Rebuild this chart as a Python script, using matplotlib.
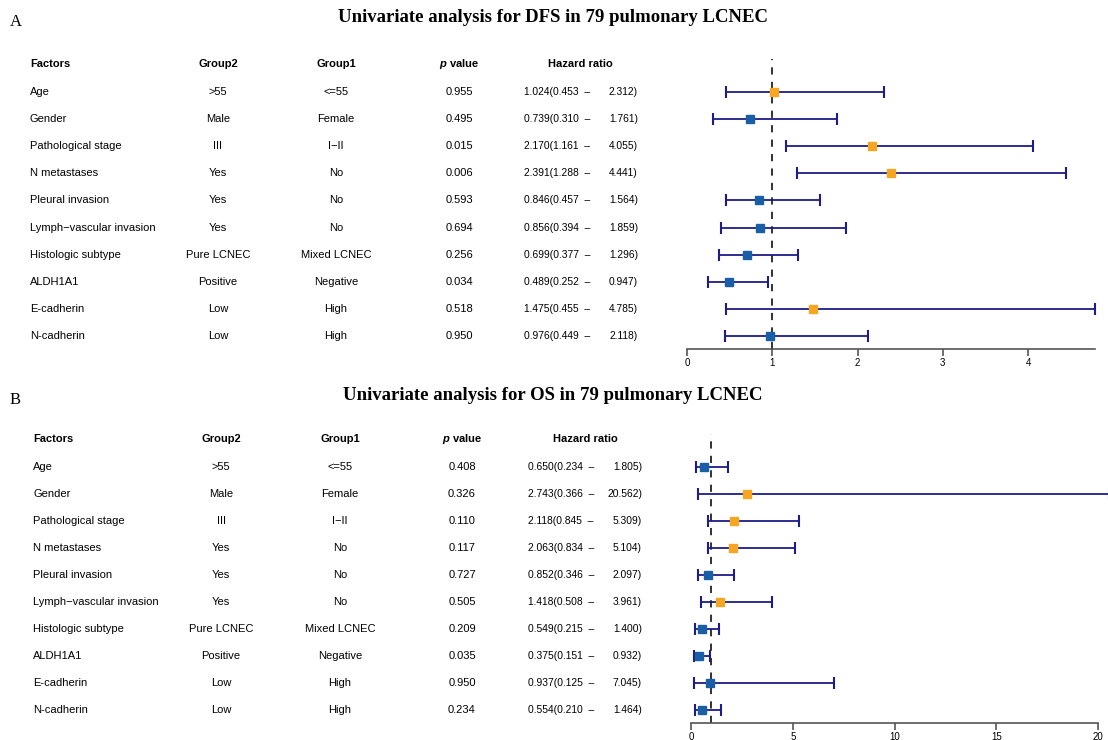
import matplotlib
matplotlib.use("Agg")
import matplotlib.pyplot as plt
from matplotlib import transforms

# -------------------------------
# Data
# -------------------------------
factors = ["Age", "Gender", "Pathological stage", "N metastases", "Pleural invasion",
           "Lymph\u2212vascular invasion", "Histologic subtype", "ALDH1A1",
           "E-cadherin", "N-cadherin"]
group2 = [">55", "Male", "III", "Yes", "Yes", "Yes", "Pure LCNEC", "Positive", "Low", "Low"]
group1 = ["<=55", "Female", "I\u2212II", "No", "No", "No", "Mixed LCNEC", "Negative", "High", "High"]

dfs_p = ["0.955", "0.495", "0.015", "0.006", "0.593", "0.694", "0.256", "0.034", "0.518", "0.950"]
dfs_hr = [1.024, 0.739, 2.170, 2.391, 0.846, 0.856, 0.699, 0.489, 1.475, 0.976]
dfs_lo = [0.453, 0.310, 1.161, 1.288, 0.457, 0.394, 0.377, 0.252, 0.455, 0.449]
dfs_hi = [2.312, 1.761, 4.055, 4.441, 1.564, 1.859, 1.296, 0.947, 4.785, 2.118]

os_p = ["0.408", "0.326", "0.110", "0.117", "0.727", "0.505", "0.209", "0.035", "0.950", "0.234"]
os_hr = [0.650, 2.743, 2.118, 2.063, 0.852, 1.418, 0.549, 0.375, 0.937, 0.554]
os_lo = [0.234, 0.366, 0.845, 0.834, 0.346, 0.508, 0.215, 0.151, 0.125, 0.210]
os_hi = [1.805, 20.562, 5.309, 5.104, 2.097, 3.961, 1.400, 0.932, 7.045, 1.464]

dfs_ticks = [0, 1, 2, 3, 4]
os_ticks = [0, 5, 10, 15, 20]

# -------------------------------
# Style
# -------------------------------
plt.rcParams["font.family"] = ["Liberation Sans", "DejaVu Sans"]
plt.rcParams["mathtext.fontset"] = "custom"
plt.rcParams["mathtext.it"] = "Liberation Sans:italic:bold"
plt.rcParams["mathtext.rm"] = "Liberation Sans:bold"

ORANGE = "#f5a623"
BLUE = "#1a5ea6"
NAVY = "#1c1c8a"
FS = 8
FS_HR = 7.4

W, H = 1108, 740
fig = plt.figure(figsize=(W / 100, H / 100), dpi=100)


def panel(ax, title, letter, title_y, letter_y, cols, p, hr, lo, hi, ticks, xmax):
    n = len(factors)
    rows = list(range(n))
    tr = transforms.blended_transform_factory(fig.transFigure, ax.transData)
    x_fac, x_g2, x_g1, x_p, x_hrl, x_hrr, x_hrh = [c / W for c in cols]

    # header
    ax.text(x_fac, -1, "Factors", transform=tr, ha="left", va="center", fontsize=FS, fontweight="bold")
    ax.text(x_g2, -1, "Group2", transform=tr, ha="center", va="center", fontsize=FS, fontweight="bold")
    ax.text(x_g1, -1, "Group1", transform=tr, ha="center", va="center", fontsize=FS, fontweight="bold")
    ax.text(x_p, -1, r"$\it{p}$ value", transform=tr, ha="center", va="center", fontsize=FS, fontweight="bold")
    ax.text(x_hrh, -1, "Hazard ratio", transform=tr, ha="center", va="center", fontsize=FS, fontweight="bold")

    # table rows
    for i in rows:
        ax.text(x_fac, i, factors[i], transform=tr, ha="left", va="center", fontsize=FS)
        ax.text(x_g2, i, group2[i], transform=tr, ha="center", va="center", fontsize=FS)
        ax.text(x_g1, i, group1[i], transform=tr, ha="center", va="center", fontsize=FS)
        ax.text(x_p, i, p[i], transform=tr, ha="center", va="center", fontsize=FS)
        ax.text(x_hrl, i, f"{hr[i]:.3f}({lo[i]:.3f}  \u2013", transform=tr, ha="left", va="center", fontsize=FS_HR)
        ax.text(x_hrr, i, f"{hi[i]:.3f})", transform=tr, ha="right", va="center", fontsize=FS_HR)

    # forest plot
    ax.axvline(1, color="#222222", linestyle=(0, (4, 4)), linewidth=1.3, zorder=1)
    for i in rows:
        ax.errorbar(hr[i], i, xerr=[[hr[i] - lo[i]], [hi[i] - hr[i]]], fmt="none",
                    ecolor=NAVY, elinewidth=1.3, capsize=4, capthick=1.5, clip_on=False, zorder=2)
        ax.plot(hr[i], i, marker="s", markersize=5.2, color=ORANGE if hr[i] > 1 else BLUE,
                linestyle="none", clip_on=False, zorder=3)

    ax.set_xlim(0, xmax)
    ax.set_ylim(n - 0.55, -1.2)
    ax.set_xticks(ticks)
    ax.set_xticklabels([str(t) for t in ticks])
    ax.set_yticks([])
    for s in ["top", "right", "left"]:
        ax.spines[s].set_visible(False)
    ax.spines["bottom"].set_color("#555555")
    ax.spines["bottom"].set_linewidth(1.2)
    ax.tick_params(axis="x", direction="out", length=5, width=1.2, color="#555555",
                   labelsize=7, pad=1.5)
    ax.patch.set_alpha(0)

    fig.text(553 / W, 1 - title_y / H, title, ha="center", va="center", fontsize=13.5,
             fontweight="bold", family="Liberation Serif")
    fig.text(10 / W, 1 - letter_y / H, letter, ha="left", va="center", fontsize=12,
             family="Liberation Serif")


# Panel A: DFS
axA = fig.add_axes([687 / W, 1 - 348.5 / H, 408 / W, (348.5 - 59) / H])
panel(axA, "Univariate analysis for DFS in 79 pulmonary LCNEC", "A", 18, 22,
      [30, 218, 336, 459, 524, 638, 580], dfs_p, dfs_hr, dfs_lo, dfs_hi, dfs_ticks, max(dfs_hi))

# Panel B: OS
axB = fig.add_axes([691 / W, 1 - 722.5 / H, 407 / W, (722.5 - 434) / H])
panel(axB, "Univariate analysis for OS in 79 pulmonary LCNEC", "B", 395, 400,
      [33, 221, 340, 462, 528, 642, 585], os_p, os_hr, os_lo, os_hi, os_ticks, 20)

fig.savefig("out.png", dpi=100)
